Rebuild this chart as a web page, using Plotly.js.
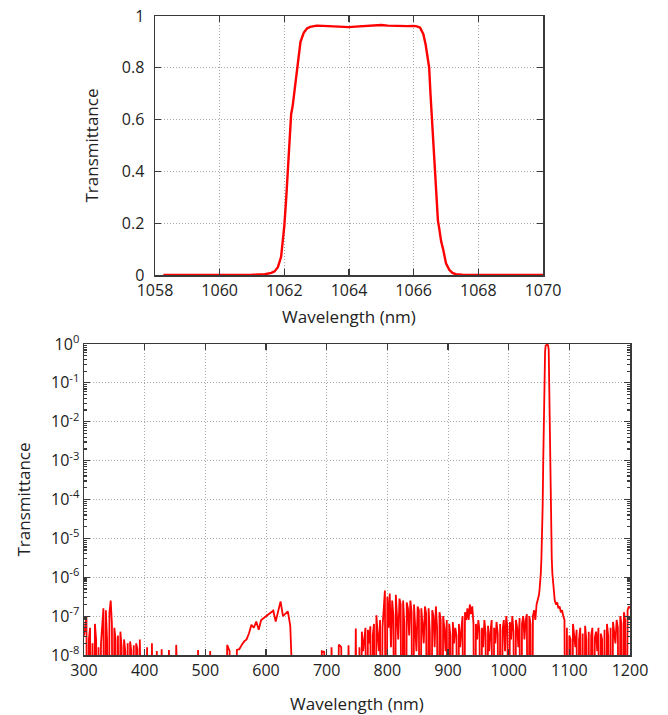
<!DOCTYPE html>
<html>
<head>
<meta charset="utf-8">
<script src="https://cdn.plot.ly/plotly-3.0.1.min.js"></script>
<style>html,body{margin:0;padding:0;background:#fff;}#chart{width:668px;height:715px;}</style>
</head>
<body>
<div id="chart"></div>
<script>
// ---------- Top panel: linear transmittance around the passband ----------
const passbandWavelength = [1058.26, 1059, 1060, 1061, 1061.4, 1061.6, 1061.7, 1061.8, 1061.9, 1062.0,
  1062.06, 1062.12, 1062.17, 1062.21, 1062.26, 1062.32, 1062.39, 1062.45, 1062.5, 1062.6,
  1062.7, 1062.8, 1062.9, 1063.0, 1063.2, 1063.4, 1063.6, 1063.8, 1064.0, 1064.2,
  1064.4, 1064.6, 1064.8, 1065.0, 1065.2, 1065.4, 1065.6, 1065.8, 1066.0, 1066.1,
  1066.2, 1066.3, 1066.37, 1066.43, 1066.48, 1066.52, 1066.57, 1066.62, 1066.67, 1066.71,
  1066.75, 1066.79, 1066.85, 1066.91, 1067.0, 1067.1, 1067.2, 1067.3, 1067.5, 1068,
  1069, 1070];
const passbandTransmittance = [0, 0, 0, 0.001, 0.003, 0.008, 0.014, 0.03, 0.07, 0.19,
  0.3, 0.42, 0.52, 0.62, 0.655, 0.72, 0.8, 0.86, 0.9, 0.935,
  0.952, 0.958, 0.962, 0.963, 0.962, 0.961, 0.960, 0.958, 0.957, 0.959,
  0.961, 0.963, 0.964, 0.965, 0.963, 0.962, 0.960, 0.961, 0.962, 0.960,
  0.955, 0.93, 0.89, 0.84, 0.8, 0.7, 0.6, 0.5, 0.4, 0.3,
  0.21, 0.18, 0.13, 0.1, 0.045, 0.02, 0.008, 0.003, 0.001, 0,
  0, 0];
const topXTicks = [1058, 1060, 1062, 1064, 1066, 1068, 1070];
const topYTicks = [0, 0.2, 0.4, 0.6, 0.8, 1];

// ---------- Bottom panel: broadband transmittance, stored as log10(T) ----------
// D marks points that fall below the 1e-8 floor of the plot (drawn off-axis, clipped)
const D = -14;

const wlA = [300,302,304,306,308,310,312,314,316,318, 320,322,324,326,328,330,332,334,336,338,
  340,342,344,346,348,350,352,354,356,358, 360,362,364,366,368,370,372,374,376,378,
  380,382,384,386,388,390,392,394,396,398];
const logA = [-7.5,-7.3,-7.0,D,-7.6,-7.3,D,-7.7,D,-7.2, -7.6,D,-7.8,D,-7.7,-7.3,-6.8,D,-6.85,-7.6,
  D,-6.9,-6.6,-7.2,D,-7.3,-7.6,D,-7.5,D, -7.4,-7.8,D,-7.6,-7.9,D,-7.7,D,-7.65,-7.9,
  D,-7.75,D,-7.7,-7.85,D,-7.6,D,D,D];

const wlB = [400,404,408,412,416,420,424,428,432,436,440,444,448,452,456,460,464,468,472,476,
  480,484,488,492,496,500,504,508,512,516,520,524,528,532,536,540,544,548,552,556];
const logB = [D,-7.8,D,-7.7,D,-7.9,D,-7.85,D,D,-7.87,D,D,-7.74,D,D,D,D,D,D,
  D,D,-7.87,D,D,D,D,-7.9,D,D,D,D,D,D,-7.74,-7.9,D,D,-7.87,-7.85];

const wlC = [560,564,568,572,576,580,584,588,592,596,600,604,608,612,616,620,624,628,632,636,640,644];
const logC = [-7.74,-7.65,-7.6,-7.44,-7.22,-7.3,-7.14,-7.35,-7.1,-7.05,-7.01,-6.95,-6.9,-6.86,-7.14,-6.84,-6.62,-7.0,-6.95,-6.88,-7.25,-9.5];

const wlD1 = [648,652,656,660,664,668,672,676,680,684,688,
  692,696,700,704,708,712,716,720,724,728,732,736,740,744,748,752];
const logD1 = [D,D,D,D,D,D,D,D,D,D,D,
  -7.9,-7.92,D,D,-7.8,D,D,-7.73,-7.8,D,D,-7.75,D,D,-7.32,D];

const wlD2 = [754,756,758,760,762,764,766,768,770,772, 774,776,778,780,782,784,786,788,790,792,
  794,796,798,800,802,804,806,808,810,812, 814,816,818,820,822,824,826,828,830,832,
  834,836,838,840,842,844,846,848,850,852, 854,856,858,860,862,864,866,868,870,872,
  874,876,878,880,882,884,886,888,890,892, 894,896,898,900,902,904,906,908,910,912,
  914,916,918,920,922,924,926,928,930,932, 934,936,938,940,942,944,946,948,950,952,
  954,956,958,960,962,964,966,968,970,972, 974,976,978,980,982,984,986,988,990,992,
  994,996,998,1000,1002,1004,1006,1008,1010,1012, 1014,1016,1018,1020,1022,1024,1026,1028,1030,1032,
  1034,1036,1038];
const logD2 = [-7.8,D,-7.4,-7.9,-7.6,-7.3,D,-7.35,-7.7,-7.26, D,-7.5,-7.2,D,-6.98,-7.6,-7.9,-7.1,D,-7.3,
  -6.9,-6.34,D,-6.5,-7.3,-6.42,-7.8,-6.6,-7.0,D, -6.45,-6.9,-7.6,-6.55,-6.7,D,-6.6,-7.2,D,-6.65,
  -6.8,-7.5,-6.6,-6.9,D,-6.7,-7.3,-7.9,-6.75,-6.85, D,-6.8,-7.2,-7.7,-6.75,-6.95,D,-6.8,-7.4,D,
  -6.85,-7.0,-7.8,-6.75,-7.3,D,-6.9,-7.1,D,-7.0, -7.3,-7.9,-7.1,D,-7.2,-7.5,D,-7.15,-7.7,-7.3,
  -7.5,D,-7.2,-7.8,-7.35,-7.0,D,-6.9,-7.1,-6.8, -7.1,-6.7,-6.95,-6.75,-7.2,D,-7.2,-7.6,-7.1,-7.4,
  D,-7.3,-7.8,-7.1,-7.45,D,-7.25,-7.9,-7.4,-7.1, D,-7.3,-7.7,-7.15,-7.45,D,-7.2,D,-7.35,-7.1,
  -7.9,-7.0,-7.3,D,-7.15,-7.6,-7.0,-7.4,D,-7.1, -7.3,-7.8,-7.05,D,-7.2,-7.0,-7.6,-7.1,-6.95,D,
  -7.0,-7.2,D];

const wlE = [1040,1042,1044,1046,1048,
  1050,1051,1052,1053,1054,1055,1056,1057,1058,1059,1060,1061,1062,1063,1064,1065,1066,1067,1068,1069,1070,1071,1072,1073,1074,1075,1076,
  1078,1080,1082,1084,1086,1088,1090,1092,1094,1096,1098,1100];
const logE = [-7.0,-6.85,-7.1,-6.7,-6.6,
  -6.45,-6.3,-6.15,-5.9,-5.5,-5.1,-4.2,-3.0,-1.8,-0.8,-0.2,-0.04,-0.02,-0.02,-0.02,-0.03,-0.15,-1.5,-3.0,-4.1,-5.0,-5.5,-5.9,-6.15,-6.35,-6.5,-6.6,
  -6.7,-6.65,-6.8,-6.75,-6.9,-6.85,-7.0,-7.1,D,-7.3,D,-7.5];

const wlF = [1102,1104,1106,1108,1110,1112,1114,1116,1118,1120, 1122,1124,1126,1128,1130,1132,1134,1136,1138,1140,
  1142,1144,1146,1148,1150,1152,1154,1156,1158,1160, 1162,1164,1166,1168,1170,1172,1174,1176,1178,1180,
  1182,1184,1186,1188,1190,1192,1194,1196,1198,1200];
const logF = [-7.6,D,-7.2,-7.5,-7.8,-7.35,D,-7.6,-7.3,D, -7.45,D,-7.25,-7.6,D,-7.4,D,-7.5,-7.3,D,
  -7.55,-7.4,-7.9,-7.3,D,-7.45,-7.6,D,-7.35,D, -7.2,-7.5,D,-7.3,D,-7.15,-7.45,-7.7,-7.1,-7.3,
  D,-7.0,-7.2,D,-6.9,-7.1,D,-6.85,-6.75,-6.8];

const bottomXTicks = [300, 400, 500, 600, 700, 800, 900, 1000, 1100, 1200];
const bottomYTickVals = [1e-8, 1e-7, 1e-6, 1e-5, 1e-4, 1e-3, 1e-2, 1e-1, 1];
const bottomYTickText = ['10<sup>-8</sup>','10<sup>-7</sup>','10<sup>-6</sup>','10<sup>-5</sup>','10<sup>-4</sup>','10<sup>-3</sup>','10<sup>-2</sup>','10<sup>-1</sup>','10<sup>0</sup>'];
const minorMultipliers = [2, 3, 4, 5, 6, 7, 8, 9];
const bottomMinorVals = [];
bottomYTickVals.slice(0, -1).forEach(dec => minorMultipliers.forEach(m => bottomMinorVals.push(m * dec)));

const broadWavelength = [].concat(wlA, wlB, wlC, wlD1, wlD2, wlE, wlF);
const broadTransmittance = [].concat(logA, logB, logC, logD1, logD2, logE, logF).map(e => Math.pow(10, e));

const FONT = 'Open Sans, Noto Sans, sans-serif';
const frame = {
  showline: true, linecolor: '#3a3a3a', linewidth: 1.5, mirror: 'ticks',
  ticks: 'inside', ticklen: 6, tickwidth: 1.2, tickcolor: '#3a3a3a',
  showgrid: true, gridcolor: '#a8a8a8', griddash: '1px,2px', gridwidth: 1,
  zeroline: false, tickfont: {family: FONT, size: 16, color: '#222'}
};

const traces = [
  {x: passbandWavelength, y: passbandTransmittance, xaxis: 'x', yaxis: 'y', type: 'scatter', mode: 'lines',
   line: {color: '#ff0000', width: 2.4}, hoverinfo: 'skip'},
  {x: broadWavelength, y: broadTransmittance, xaxis: 'x2', yaxis: 'y2', type: 'scatter', mode: 'lines',
   line: {color: '#ff0000', width: 1.8}, hoverinfo: 'skip'}
];

const layout = {
  width: 668, height: 715,
  margin: {l: 0, r: 0, t: 0, b: 0},
  paper_bgcolor: '#ffffff', plot_bgcolor: '#ffffff',
  showlegend: false,
  font: {family: FONT, size: 16, color: '#222'},
  xaxis: Object.assign({}, frame, {
    domain: [155/668, 543/668], anchor: 'y', range: [1058, 1070],
    tickmode: 'array', tickvals: topXTicks,
    title: {text: 'Wavelength (nm)', font: {family: FONT, size: 17, color: '#222'}, standoff: 11}
  }),
  yaxis: Object.assign({}, frame, {
    domain: [1 - 275/715, 1 - 16/715], anchor: 'x', range: [0, 1],
    tickmode: 'array', tickvals: topYTicks, ticklabelstandoff: 6,
    title: {text: 'Transmittance', font: {family: FONT, size: 17, color: '#222'}, standoff: 19}
  }),
  xaxis2: Object.assign({}, frame, {
    domain: [84/668, 630/668], anchor: 'y2', range: [300, 1200],
    tickmode: 'array', tickvals: bottomXTicks,
    title: {text: 'Wavelength (nm)', font: {family: FONT, size: 17, color: '#222'}, standoff: 21}
  }),
  yaxis2: Object.assign({}, frame, {
    domain: [1 - 655/715, 1 - 344/715], anchor: 'x2', type: 'log', range: [-8, 0],
    tickmode: 'array', tickvals: bottomYTickVals, ticktext: bottomYTickText,
    minor: {tickmode: 'array', tickvals: bottomMinorVals, ticks: 'inside', ticklen: 3, tickcolor: '#3a3a3a', showgrid: false},
    title: {text: 'Transmittance', font: {family: FONT, size: 17, color: '#222'}, standoff: 16}
  })
};

Plotly.newPlot('chart', traces, layout, {displayModeBar: false, staticPlot: true});
</script>
</body>
</html>
